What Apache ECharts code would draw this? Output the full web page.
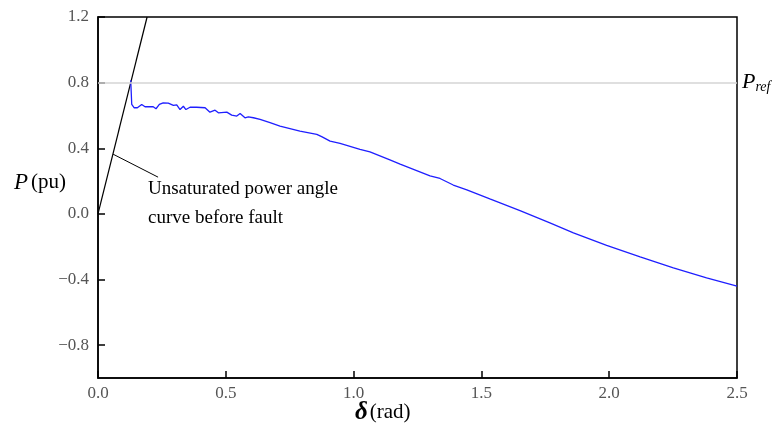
<!DOCTYPE html>
<html>
<head>
<meta charset="utf-8">
<script src="https://cdn.jsdelivr.net/npm/echarts@6/dist/echarts.min.js"></script>
<style>html,body{margin:0;padding:0;background:#fff;}#c{width:772px;height:435px;}</style>
</head>
<body>
<div id="c"></div>
<script>
// x-axis ticks (rad) and y-axis ticks (pu)
const xTicks = [0, 0.5, 1.0, 1.5, 2.0, 2.5];
const yTicks = [-0.8, -0.4, 0.0, 0.4, 0.8, 1.2];
// unsaturated power-angle curve before fault (straight line)
const deltaPre = [0, 0.192];
const pPre = [0, 1.2];
// leader line for annotation
const leaderDelta = [0.059, 0.235];
const leaderP = [0.364, 0.224];
// reference power
const pRef = 0.8;
// measured trajectory
const delta = [0.128,0.132,0.141,0.154,0.171,0.184,0.203,0.216,0.227,0.240,0.255,0.275,0.295,0.308,0.321,0.334,0.344,0.360,0.386,0.419,0.438,0.458,0.471,0.504,0.523,0.543,0.556,0.575,0.588,0.608,0.634,0.673,0.712,0.790,0.856,0.875,0.908,0.947,1.025,1.064,1.142,1.182,1.299,1.338,1.390,1.443,1.533,1.651,1.768,1.860,1.990,2.121,2.251,2.381,2.5];
const power = [0.814,0.667,0.647,0.647,0.667,0.653,0.653,0.653,0.641,0.667,0.677,0.675,0.661,0.665,0.636,0.656,0.636,0.650,0.650,0.647,0.620,0.632,0.616,0.620,0.602,0.596,0.612,0.586,0.592,0.586,0.576,0.556,0.535,0.505,0.485,0.471,0.444,0.430,0.394,0.378,0.329,0.303,0.232,0.216,0.176,0.147,0.091,0.020,-0.055,-0.115,-0.192,-0.262,-0.329,-0.390,-0.44];
const annotation = ['Unsaturated power angle', 'curve before fault'];

const zip = (a, b) => a.map((v, i) => [v, b[i]]);
const fmt = v => (v < 0 ? '\u2212' : '') + Math.abs(v).toFixed(1);
const serif = '"Liberation Serif", "DejaVu Serif", serif';

const chart = echarts.init(document.getElementById('c'), null, {renderer: 'canvas'});
chart.setOption({
  animation: false,
  backgroundColor: '#fff',
  grid: {left: 98, right: 35, top: 17, bottom: 57, show: true, borderColor: '#000', borderWidth: 1.5},
  xAxis: {
    type: 'value', min: 0, max: 2.5, interval: 0.5,
    axisLine: {show: true, onZero: false, lineStyle: {color: '#000', width: 1.5}},
    axisTick: {show: true, inside: true, length: 7, lineStyle: {color: '#000', width: 1.5}, customValues: xTicks},
    axisLabel: {color: '#555', fontFamily: serif, fontSize: 17, margin: 7, formatter: fmt, customValues: xTicks},
    splitLine: {show: false}
  },
  yAxis: {
    type: 'value', min: -1.0, max: 1.2,
    axisLine: {show: true, onZero: false, lineStyle: {color: '#000', width: 1.5}},
    axisTick: {show: true, inside: true, length: 7, lineStyle: {color: '#000', width: 1.5}, customValues: yTicks},
    axisLabel: {color: '#555', fontFamily: serif, fontSize: 17, margin: 9, formatter: fmt, customValues: yTicks},
    splitLine: {show: false}
  },
  graphic: [
    {type: 'text', left: 14, top: 171, style: {
      text: '{p|P}{u|(pu)}',
      rich: {p: {fontFamily: serif, fontStyle: 'italic', fontSize: 23, fill: '#000'},
             u: {fontFamily: serif, fontSize: 21, fill: '#000', padding: [0, 0, 0, 3]}}
    }},
    {type: 'text', left: 355, top: 400, style: {
      text: '{d|δ}{u|(rad)}',
      rich: {d: {fontFamily: serif, fontStyle: 'italic', fontWeight: 'bold', fontSize: 25, fill: '#000'},
             u: {fontFamily: serif, fontSize: 21, fill: '#000', padding: [0, 0, 0, 2]}}
    }},
    {type: 'text', left: 148, top: 180, style: {text: annotation[0], font: '19px ' + serif, fill: '#000'}},
    {type: 'text', left: 148, top: 209, style: {text: annotation[1], font: '19px ' + serif, fill: '#000'}}
  ],
  series: [
    {
      type: 'line', data: zip(deltaPre, pPre), symbol: 'none', clip: true,
      lineStyle: {color: '#000', width: 1.2}, z: 3,
      markLine: {
        silent: true, symbol: 'none',
        lineStyle: {color: '#d4d4d4', width: 1.5, type: 'solid'},
        label: {
          show: true, position: 'end', distance: 5,
          formatter: '{p|P}{s|ref}',
          rich: {p: {fontFamily: serif, fontStyle: 'italic', fontSize: 22, color: '#000'},
                 s: {fontFamily: serif, fontStyle: 'italic', fontSize: 14, color: '#000', verticalAlign: 'bottom', padding: [10, 0, 0, 0]}}
        },
        data: [{yAxis: pRef}]
      }
    },
    {
      type: 'line', data: zip(leaderDelta, leaderP), symbol: 'none',
      lineStyle: {color: '#000', width: 1}, z: 3
    },
    {
      type: 'line', data: zip(delta, power), symbol: 'none',
      lineStyle: {color: '#1f1fff', width: 1.3}, z: 4
    }
  ]
});
</script>
</body>
</html>
